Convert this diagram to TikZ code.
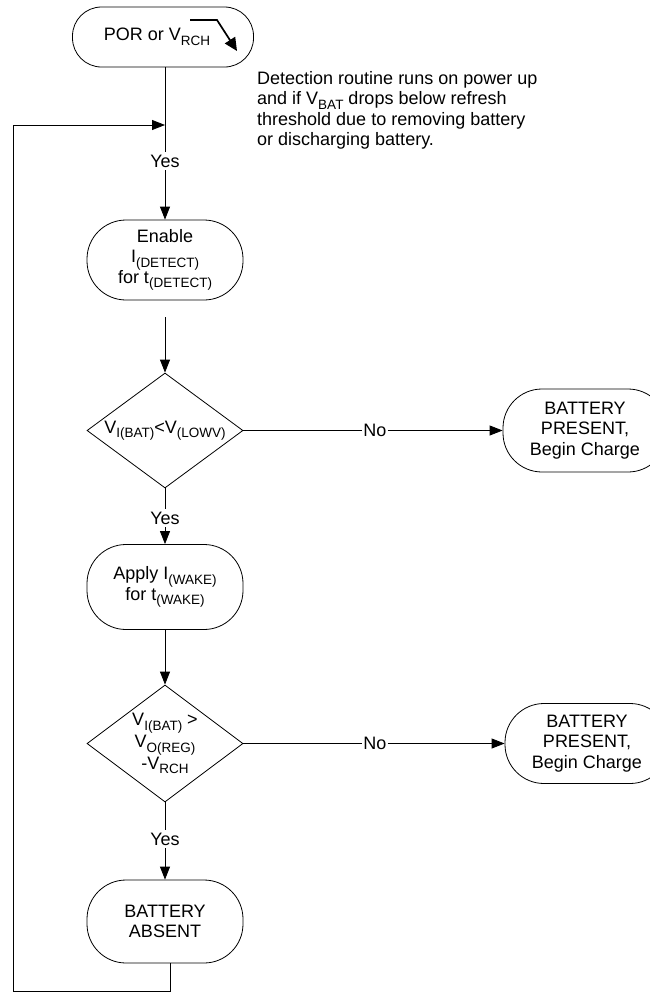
\documentclass[tikz,border=0pt]{standalone}
\usepackage{fontspec}
\setmainfont{Liberation Sans}
\usetikzlibrary{arrows.meta,shapes.geometric}
\newcommand{\sbs}[1]{\raisebox{-4.5pt}{\fontsize{13.5}{13.5}\selectfont #1}}
\begin{document}
\begin{tikzpicture}[x=1pt,y=-1pt,
  every node/.style={font=\fontsize{18}{20.5}\selectfont, inner sep=0pt},
  term/.style={draw, line width=0.8pt, rounded corners=39pt, minimum width=156pt, minimum height=82pt, align=center},
  dec/.style={draw, line width=0.8pt, diamond, minimum width=156pt, minimum height=115pt},
  conn/.style={line width=0.8pt},
  arr/.style={conn, -{Triangle[length=13pt,width=10pt]}},
  lbl/.style={inner sep=3pt}]
\useasboundingbox (0,0) rectangle (649,996);

% nodes
\node[term, minimum width=181pt, minimum height=60pt, rounded corners=29pt] (por) at (163,37)
  {\raisebox{-8pt}{POR or V\sbs{RCH}}\hspace{12pt}};
\draw[line width=1.7pt, -{Triangle[length=13pt,width=12pt]}]
  ([shift={(27,-17)}]por.center) -- ++(27,0) -- ++(20,31);

\node[anchor=north west, align=left] (note) at (257,71)
  {Detection routine runs on power up\\and if V\sbs{BAT} drops below refresh\\threshold due to removing battery\\or discharging battery.};

\node[term, minimum height=80pt] (en) at (165,260)
  {Enable\\I\sbs{(DETECT)}\\for t\sbs{(DETECT)}};

\node[dec] (d1) at (165,430.5)
  {\makebox[0pt]{V\sbs{I(BAT)}<V\sbs{(LOWV)}}};

\node[term, minimum width=164pt, minimum height=83pt] (bp1) at (585,430.5)
  {BATTERY\\PRESENT,\\Begin Charge};

\node[term, minimum height=85pt] (ap) at (165,587)
  {Apply I\sbs{(WAKE)}\\for t\sbs{(WAKE)}};

\node[dec, minimum height=117pt] (d2) at (165,743.5)
  {\makebox[0pt]{\raisebox{-5pt}{\begin{tabular}{@{}c@{}}V\sbs{I(BAT)} >\\V\sbs{O(REG)}\\-V\sbs{RCH}\end{tabular}}}};

\node[term, minimum width=164pt, minimum height=80pt] (bp2) at (587,743.5)
  {BATTERY\\PRESENT,\\Begin Charge};

\node[term, minimum height=83pt] (ab) at (165,921.5)
  {BATTERY\\ABSENT};

% labels
\node[lbl] (y1) at (165,161) {Yes};
\node[lbl] (y2) at (165,518) {Yes};
\node[lbl] (y3) at (165,839) {Yes};
\node[inner sep=1pt] (n1) at (375,430.5) {No};
\node[inner sep=1pt] (n2) at (375,743.5) {No};

% connectors
\draw[conn] (por.south -| y1.north) -- (y1.north);
\draw[arr] (y1.south) -- (en.north);
\draw[arr] ([yshift=-17pt]en.south) -- (d1.north);
\draw[conn] (d1.south) -- (y2.north);
\draw[arr] (y2.south) -- (ap.north);
\draw[arr] (ap.south) -- (d2.north);
\draw[conn] (d2.south) -- (y3.north);
\draw[arr] (y3.south) -- (ab.north);
\draw[conn] (d1.east) -- (n1.west);
\draw[arr] (n1.east) -- (bp1.west);
\draw[conn] (d2.east) -- (n2.west);
\draw[arr] (n2.east) -- (bp2.west);

\coordinate (c1) at (13,991);
\coordinate (c2) at (13,125);
\draw[arr] ([xshift=5pt]ab.south) |- (c1) -- (c2) -- (c2 -| y1.north);
\end{tikzpicture}
\end{document}
